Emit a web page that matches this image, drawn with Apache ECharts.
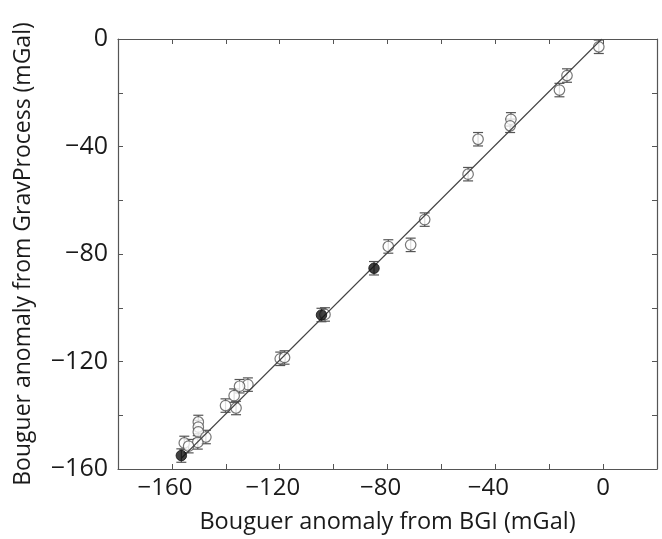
<!DOCTYPE html>
<html><head><meta charset="utf-8">
<script src="https://cdn.jsdelivr.net/npm/echarts@6/dist/echarts.min.js"></script>
<style>html,body{margin:0;padding:0;background:#fff}#c{width:662px;height:539px}</style>
</head><body><div id="c"></div>
<script>
// Open-circle points: BGI (x), GravProcess (y), error (±)
const openBGI  = [-1.6, -13.4, -16.2, -34.2, -34.5, -46.4, -50.1, -66.2, -71.4, -79.7, -103.2, -119.8, -118.2, -131.8, -134.9, -136.9, -140.1, -136.2, -150.2, -150.2, -150.2, -147.4, -150.4, -155.4, -153.8];
const openGrav = [-2.9, -13.6, -19.0, -29.9, -32.3, -37.3, -50.3, -67.2, -76.6, -77.2, -102.5, -119.0, -118.5, -128.6, -129.2, -132.7, -136.4, -137.3, -142.5, -144.4, -146.2, -148.1, -150.1, -150.3, -151.5];
const openErr  = [2.5, 2.5, 2.5, 2.5, 2.5, 2.5, 2.5, 2.5, 2.5, 2.5, 2.5, 2.5, 2.5, 2.5, 2.5, 2.5, 2.5, 2.5, 2.5, 2.5, 2.5, 2.5, 2.5, 2.5, 2.5];
// Filled points
const fillBGI  = [-85.0, -104.5, -156.5];
const fillGrav = [-85.3, -102.7, -155.0];
const fillErr  = [2.5, 2.5, 2.5];
// 1:1 line
const lineX = [-156.5, -0.5];
const lineY = [-156, 0];
// tick labels
const xTickLabels = [-160, -120, -80, -40, 0];
const yTickLabels = [0, -40, -80, -120, -160];

const FONT = 'Open Sans';
const AX = '#555';
const TXT = '#1a1a1a';
const fmt = v => (v < 0 ? '\u2212' + Math.abs(v) : String(v));

const openPts = openBGI.map((x, i) => [x, openGrav[i], openErr[i]]);
const fillPts = fillBGI.map((x, i) => [x, fillGrav[i], fillErr[i]]);
const allErr = openPts.concat(fillPts);

const chart = echarts.init(document.getElementById('c'), null, {renderer: 'canvas'});
const baseAxis = {
  axisLine: {show: true, onZero: false, lineStyle: {color: AX, width: 1.2}},
  axisTick: {show: true, inside: true, length: 5, lineStyle: {color: AX, width: 1}},
  splitLine: {show: false}
};
chart.setOption({
  animation: false,
  grid: {left: 118, top: 39, width: 539, height: 430, containLabel: false, outerBoundsMode: 'none'},
  xAxis: [
    Object.assign({}, baseAxis, {
      type: 'value', min: -180, max: 20, interval: 20, position: 'bottom',
      name: 'Bouguer anomaly from BGI (mGal)', nameLocation: 'middle', nameGap: 41,
      nameTextStyle: {fontFamily: FONT, fontSize: 23.5, color: TXT},
      axisLabel: {fontFamily: FONT, fontSize: 24, color: TXT, margin: 7,
        formatter: v => {
          if (xTickLabels.indexOf(v) < 0) return '';
          return v < 0 ? '{a|' + fmt(v) + '}{h|\u2212}' : '{a|' + fmt(v) + '}';
        },
        rich: {
          a: {fontFamily: FONT, fontSize: 24, color: TXT},
          h: {fontFamily: FONT, fontSize: 24, color: 'rgba(0,0,0,0)'}
        }
      }
    }),
    Object.assign({}, baseAxis, {
      type: 'value', min: -180, max: 20, interval: 20, position: 'top',
      axisLabel: {show: false}
    })
  ],
  yAxis: [
    Object.assign({}, baseAxis, {
      type: 'value', min: -160, max: 0, interval: 20, position: 'left',
      name: 'Bouguer anomaly from GravProcess (mGal)', nameLocation: 'middle', nameGap: 83,
      nameRotate: 90,
      nameTextStyle: {fontFamily: FONT, fontSize: 23, color: TXT},
      axisLabel: {fontFamily: FONT, fontSize: 25, color: TXT, margin: 10,
        formatter: v => yTickLabels.indexOf(v) >= 0 ? fmt(v) : ''}
    }),
    Object.assign({}, baseAxis, {
      type: 'value', min: -160, max: 0, interval: 20, position: 'right',
      axisLabel: {show: false}
    })
  ],
  series: [
    {
      type: 'custom', xAxisIndex: 0, yAxisIndex: 0, z: 2,
      data: allErr,
      renderItem: function (params, api) {
        const x = api.value(0), y = api.value(1), e = api.value(2);
        const top = api.coord([x, y + e]);
        const bot = api.coord([x, y - e]);
        const hw = 5;
        const st = {stroke: '#555', lineWidth: 1.2};
        return {type: 'group', children: [
          {type: 'line', shape: {x1: top[0], y1: top[1], x2: bot[0], y2: bot[1]}, style: st},
          {type: 'line', shape: {x1: top[0] - hw, y1: top[1], x2: top[0] + hw, y2: top[1]}, style: st},
          {type: 'line', shape: {x1: bot[0] - hw, y1: bot[1], x2: bot[0] + hw, y2: bot[1]}, style: st}
        ]};
      }
    },
    {
      type: 'scatter', z: 3, data: openPts.map(p => [p[0], p[1]]),
      symbol: 'circle', symbolSize: 10.5,
      itemStyle: {color: '#fff', borderColor: '#555', borderWidth: 1.2}
    },
    {
      type: 'line', z: 4, data: lineX.map((x, i) => [x, lineY[i]]),
      symbol: 'none', lineStyle: {color: '#444', width: 1.1}
    },
    {
      type: 'scatter', z: 5, data: fillPts.map(p => [p[0], p[1]]),
      symbol: 'circle', symbolSize: 10.5,
      itemStyle: {color: '#111', borderColor: '#111', borderWidth: 1}
    }
  ]
});
</script></body></html>
